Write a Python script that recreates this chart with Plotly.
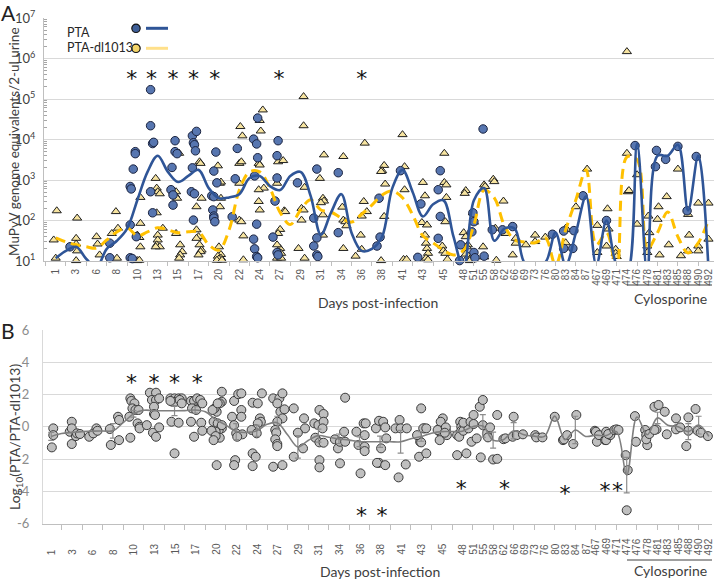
import plotly.graph_objects as go

W, H = 720, 581

# ---------------- data ----------------
day_labels = ["1", "3", "6", "8", "10", "13", "15", "17", "20", "22", "24", "27", "29", "31",
              "34", "36", "38", "41", "43", "45", "48", "51", "55", "58", "62", "66", "69", "73",
              "76", "80", "83", "84", "87", "467", "469", "471", "474", "476", "478", "481",
              "483", "485", "488", "490", "492"]
# category slot of each labelled day on the x axis
label_pos = [0, 2, 4, 6, 8, 10, 12, 14, 16, 18, 20, 22, 24, 26, 28, 30, 32, 34, 36, 38,
             40, 41, 42, 43, 44, 45, 46, 47, 48, 49, 50, 51, 52, 53, 54, 55, 56, 57, 58, 59,
             60, 61, 62, 63, 64]
slot_pos = list(range(65))

# Panel A: PTA (circles), category slot and log10 genome equivalents
pta_pos = [1.4, 5.3, 5.3, 7.3, 7.3, 7.5, 7.3, 7.4, 7.6, 7.8, 7.8, 7.9, 9.3, 9.3, 9.5, 9.6, 9.3, 9.5,
           11.4, 11.3, 11.5, 11.7, 11.7, 11.9, 11.5, 13.4, 13.8, 13.5, 13.6, 13.7, 13.4, 13.3, 13.6,
           13.5, 15.7, 15.5, 15.8, 15.3, 15.5, 15.4, 15.5, 15.5, 15.6, 17.8, 17.6, 17.3, 19.4, 19.8,
           19.7, 19.8, 19.5, 19.4, 19.7, 19.5, 19.7, 19.8, 21.8, 21.7, 21.7, 21.5, 21.3, 21.7, 21.8,
           23.7, 25.6, 25.3, 25.6, 25.3, 25.6, 25.7, 27.7, 27.7, 31.7, 31.5, 31.8, 33.8, 35.8, 35.5,
           37.5, 37.7, 37.7, 37.5, 39.6, 39.7, 40.8, 41.0, 40.9, 41.0, 41.1, 41.9, 42.0, 42.8, 43.8,
           44.8, 48.7, 49.8, 49.8, 50.8, 50.7, 51.7, 54.0, 56.8, 58.8, 58.9, 59.8, 61.0, 61.9, 62.8]
pta_log10 = [1.35, 1.44, 1.08, 1.89, 1.08, 1.06, 2.84, 2.78, 3.27, 3.70, 3.65, 1.60, 5.23, 4.34,
             3.90, 3.93, 2.71, 2.19, 3.31, 2.76, 2.63, 3.97, 3.70, 3.65, 2.38, 4.09, 4.20, 3.92,
             3.87, 3.72, 3.30, 2.71, 2.66, 2.01, 3.69, 3.22, 2.93, 2.61, 2.59, 2.26, 2.11, 2.06,
             1.97, 3.78, 3.03, 2.09, 4.01, 4.53, 3.89, 3.55, 3.10, 1.54, 1.91, 1.30, 1.11, 1.08,
             3.97, 3.60, 3.05, 2.48, 1.59, 1.21, 1.15, 2.93, 3.27, 2.06, 1.57, 1.37, 1.15, 1.11,
             3.18, 1.70, 2.55, 1.37, 1.59, 3.23, 2.41, 1.09, 2.76, 3.23, 2.10, 1.56, 1.01, 1.40,
             1.72, 1.97, 2.19, 1.21, 1.08, 4.26, 1.12, 1.77, 1.77, 1.85, 1.66, 1.74, 1.31, 1.75,
             1.31, 2.61, 2.00, 3.85, 3.33, 3.73, 3.51, 3.83, 2.24, 3.58]

# Panel A: PTA-dl1013 (triangles)
dl_pos = [0.1, 2.1, 5.9, -0.2, 2.0, 2.0, 2.1, 4.0, 4.1, 0.0, 2.0, 4.3, 5.5, 6.1, 6.0, 8.3, 8.3,
          8.0, 8.2, 8.3, 8.0, 8.2, 9.8, 9.9, 10.0, 10.2, 9.9, 10.0, 10.0, 9.9, 10.2, 9.8, 10.5,
          12.1, 11.7, 11.9, 11.8, 11.8, 12.2, 12.4, 12.2, 12.1, 14.1, 14.2, 13.8, 14.0, 13.8, 14.3,
          13.8, 14.1, 14.3, 14.2, 14.0, 16.1, 16.2, 16.2, 16.1, 15.9, 16.0, 16.2, 15.9, 16.2, 16.0,
          15.8, 16.3, 18.3, 18.1, 18.0, 18.2, 18.0, 18.0, 18.2, 18.4, 18.4, 20.1, 20.3, 20.0, 19.9,
          20.0, 20.4, 19.9, 20.0, 19.9, 21.8, 22.3, 21.7, 22.4, 22.5, 22.0, 21.8, 22.0, 21.9, 22.1,
          21.7, 21.7, 22.1, 24.3, 24.3, 24.4, 23.8, 24.1, 24.3, 24.1, 24.4, 25.9, 26.2, 26.3, 26.0,
          26.2, 26.2, 26.3, 28.2, 28.1, 28.2, 28.4, 28.5, 28.2, 29.9, 30.2, 30.3, 30.5, 29.4, 30.0,
          30.0, 34.0, 32.2, 32.0, 31.9, 34.2, 32.3, 34.2, 38.1, 52.1, 61.0, 57.0, 42.9, 43.0, 42.0,
          42.1, 38.1, 36.0, 56.1, 32.2, 36.2, 38.3, 38.3, 35.9, 36.4, 38.2, 43.9, 40.9, 41.0, 43.1,
          44.1, 45.1, 45.1, 40.2, 40.1, 36.2, 36.3, 36.4, 36.5, 36.3, 36.5, 34.1, 34.4, 31.9, 37.9,
          38.0, 38.2, 38.4, 40.0, 40.2, 40.4, 40.3, 40.2, 40.5, 40.7, 40.9, 40.6, 41.9, 42.0, 43.2,
          44.8, 47.0, 47.0, 46.1, 48.0, 50.0, 50.1, 50.0, 51.0, 53.1, 53.1, 54.1, 54.2, 54.0, 54.9,
          54.9, 55.0, 56.2, 57.0, 58.1, 58.2, 58.0, 58.0, 59.1, 59.0, 59.2, 59.9, 60.1, 62.0, 62.1,
          62.0, 61.3, 63.0, 64.0, 64.0, 63.0, 63.0, 56.0, 56.0]
dl_log10 = [2.24, 2.06, 2.22, 1.52, 1.56, 1.42, 1.25, 1.60, 1.42, 1.07, 1.01, 1.15, 1.68, 1.81,
            1.07, 2.57, 1.93, 1.64, 1.58, 1.35, 1.01, 1.02, 3.04, 2.80, 2.71, 2.66, 2.19, 1.64,
            1.52, 1.40, 1.35, 1.35, 1.81, 3.66, 2.63, 2.55, 2.71, 1.68, 1.40, 1.23, 1.15, 1.07,
            3.45, 3.41, 1.77, 1.60, 1.56, 2.55, 2.34, 1.40, 1.27, 1.23, 1.15, 2.92, 2.95, 2.55,
            2.34, 3.35, 1.35, 1.16, 1.12, 1.07, 1.05, 1.02, 1.02, 4.09, 4.32, 3.41, 3.45, 2.92,
            2.01, 1.97, 1.62, 1.03, 4.21, 4.73, 4.47, 3.41, 3.37, 2.80, 2.47, 2.26, 2.76, 3.45,
            3.48, 2.92, 2.24, 2.22, 1.78, 1.68, 1.31, 1.23, 1.19, 1.40, 1.07, 1.07, 5.06, 4.34,
            1.07, 1.31, 2.30, 2.26, 2.01, 2.82, 3.04, 2.55, 2.48, 2.44, 2.14, 1.64, 3.62, 3.58,
            2.33, 2.01, 1.97, 1.87, 1.31, 1.64, 2.47, 3.91, 2.22, 1.12, 2.11, 1.29, 4.12, 3.36,
            3.23, 3.21, 3.33, 2.90, 2.76, 3.66, 3.27, 3.27, 3.13, 3.02, 2.96, 2.88, 2.84, 2.94,
            2.94, 2.71, 2.10, 2.61, 2.88, 2.57, 1.95, 1.89, 1.97, 2.48, 2.19, 1.96, 1.81, 1.68,
            1.56, 1.44, 2.74, 2.67, 1.64, 1.44, 1.31, 1.19, 1.07, 1.03, 1.04, 1.04, 1.01, 1.37,
            1.25, 1.19, 1.04, 1.70, 1.60, 1.40, 1.35, 1.17, 1.12, 1.08, 1.10, 1.01, 1.35, 1.10,
            1.02, 1.15, 1.64, 1.48, 1.40, 1.59, 1.81, 1.78, 1.45, 2.34, 1.88, 1.21, 2.29, 1.79,
            1.37, 1.29, 1.19, 1.11, 2.74, 1.91, 2.11, 1.70, 1.37, 1.21, 2.34, 2.03, 1.15, 2.59,
            1.40, 2.15, 1.64, 1.25, 1.13, 2.43, 2.43, 1.54, 1.37, 1.25, 6.17, 3.66]

# Panel A: smoothed means per category slot (log10)
pta_mean_log10 = [1.07, 1.25, 1.35, 1.05, 0.85, 1.3, 1.5, 1.8, 2.5, 3.2,
                  3.6, 3.2, 2.95, 3.1, 3.25, 2.8, 2.55, 2.57, 2.65, 3.05,
                  3.1, 2.85, 2.75, 3.1, 3.2, 2.6, 1.65, 2.2, 2.65, 1.7,
                  1.25, 1.3, 1.6, 2.8, 3.25, 2.7, 2.1, 2.4, 2.5, 1.6,
                  0.8, 2.5, 2.8, 1.5, 1.8, 1.8, 0.95, 0.97, 0.97, 1.7,
                  0.9, 1.7, 2.6, 0.9, 2.0, 0.9, 0.7, 3.9, 0.7, 3.6,
                  3.6, 3.87, 2.25, 3.6, 0.8]
dl_mean_log10 = [1.57, 1.47, 1.40, 1.35, 1.32, 1.52, 1.72, 1.82, 1.62, 1.72,
                 1.82, 1.77, 1.70, 1.72, 1.72, 1.40, 1.27, 1.77, 2.75, 3.2,
                 3.2, 2.8, 2.2, 1.9, 2.26, 2.51, 2.26, 2.21, 2.06, 1.96,
                 2.16, 2.38, 2.63, 2.73, 2.56, 2.14, 1.62, 1.45, 1.27, 1.15,
                 1.27, 1.89, 2.75, 2.56, 1.87, 1.52, 1.47, 1.45, 1.57, 0.9,
                 1.77, 2.51, 3.25, 1.4, 1.7, 0.8, 3.57, 3.5, 1.3, 1.7,
                 2.21, 1.6, 1.2, 1.45, 2.01]

# Panel B: log10(PTA/PTA-dl1013) per sample
ratio_pos = [0.06, 0.2, 0.2, 1.8, 2.0, 2.0, 2.0, 2.4, 2.5, 2.8, 3.7, 4.1, 4.4, 4.5, 5.7, 5.8, 6.5,
             6.6, 6.6, 7.7, 7.8, 8.1, 7.9, 8.2, 8.5, 7.6, 8.4, 8.6, 8.6, 7.7, 9.6, 10.2, 9.8, 10.2,
             10.5, 10.0, 10.0, 10.1, 9.9, 10.2, 10.5, 9.3, 11.6, 12.0, 12.4, 12.7, 11.8, 12.1, 12.5,
             12.7, 11.7, 12.4, 12.0, 11.6, 13.6, 13.9, 14.0, 14.2, 14.5, 14.7, 13.7, 14.1, 13.6,
             14.6, 14.7, 13.9, 16.1, 16.6, 16.6, 16.4, 15.9, 15.7, 15.8, 16.2, 16.6, 16.3, 16.0,
             15.6, 16.4, 16.0, 16.1, 15.8, 16.2, 16.6, 17.8, 18.2, 18.5, 18.5, 17.6, 18.5, 17.8,
             18.0, 18.6, 18.1, 17.9, 17.8, 19.6, 20.1, 20.5, 20.3, 20.4, 20.1, 19.9, 19.5, 20.0,
             19.6, 19.9, 19.6, 21.6, 22.2, 22.5, 22.0, 22.3, 22.7, 22.5, 22.0, 21.8, 21.9, 21.8,
             22.0, 22.0, 21.6, 22.5, 23.6, 24.6, 24.7, 24.0, 24.5, 23.6, 26.1, 26.5, 25.6, 26.0,
             26.5, 26.4, 25.7, 26.1, 26.5, 26.1, 26.1, 28.6, 27.6, 27.9, 28.5, 28.1, 28.6, 28.1,
             29.7, 29.9, 30.4, 30.6, 30.5, 30.5, 30.5, 30.1, 31.6, 31.9, 32.3, 32.5, 32.6, 32.1,
             31.9, 31.7, 32.5, 33.5, 33.9, 34.0, 34.6, 33.8, 34.5, 35.8, 35.9, 36.0, 36.5, 36.0,
             36.3, 36.2, 36.5, 35.6, 37.7, 37.8, 38.0, 38.1, 37.9, 37.6, 37.8, 38.4, 38.5, 38.4,
             38.3, 39.5, 39.5, 39.8, 39.9, 39.9, 39.7, 40.4, 40.4, 40.1, 40.6, 40.1, 40.8, 41.1,
             41.1, 40.9, 41.4, 41.7, 42.0, 41.8, 42.0, 42.4, 42.5, 42.7, 43.4, 43.0, 43.4, 44.0,
             44.2, 45.0, 44.9, 45.3, 45.9, 47.1, 47.2, 47.8, 49.0, 49.8, 49.9, 50.2, 50.8, 51.1,
             52.9, 53.0, 53.1, 53.3, 53.9, 54.0, 54.0, 54.4, 54.2, 54.8, 55.0, 55.2, 55.9, 56.1,
             56.0, 56.8, 56.9, 57.8, 57.9, 58.0, 57.9, 58.2, 58.7, 59.1, 58.9, 58.7, 59.7, 59.9,
             60.8, 60.8, 61.2, 61.8, 62.0, 62.0, 62.7, 62.9, 63.2, 63.9]
ratio_val = [-1.28, -0.10, -0.52, -0.31, 0.31, -0.10, -1.07, -0.58, -0.41, -0.45, -0.62, -0.41,
             -0.10, -0.25, -0.14, -1.13, 0.62, 0.42, -0.83, 1.76, 1.60, 1.45, 1.14, 1.04, 1.04,
             0.62, 0.21, 0.00, -0.10, -0.68, 2.11, 2.11, 1.66, 1.66, 1.76, 1.24, 0.79, 0.73,
             -0.37, -0.62, -0.04, 0.10, 1.76, 1.76, 1.76, 1.76, 1.55, 1.55, 1.66, 1.45, 0.31,
             0.25, -1.65, 1.60, 1.60, 1.60, 1.14, 1.76, 1.66, 1.45, 1.14, 1.04, 0.31, 0.25, -0.25,
             -0.62, 0.93, 2.17, 1.55, 1.45, 1.14, 1.04, 0.31, 0.21, -0.10, -0.20, -0.31, -0.25,
             -0.68, -0.58, -2.38, -0.83, 1.45, 0.10, 1.60, 2.02, 2.07, 1.04, 0.62, 0.62, 0.10,
             -0.41, -0.47, -0.62, -2.07, -2.38, 1.49, 1.45, 2.07, 0.52, 0.31, 0.21, -0.16, -0.20,
             -0.41, -1.65, -1.86, -2.44, 1.76, 1.76, 2.07, 1.45, 0.93, 1.08, 0.52, 0.31, -0.20,
             -0.37, -0.78, -1.07, -1.20, -2.48, -2.38, 1.14, 0.52, -0.10, -0.37, -1.34, -1.86,
             1.04, 0.79, 0.21, 0.10, 0.31, -0.10, -0.68, -0.97, -0.99, -2.07, -2.52, 1.80, -0.78,
             -1.34, -0.31, -0.93, -0.93, -2.27, -0.31, -1.13, 0.21, 0.21, -1.24, -1.51, -0.52,
             -2.89, -0.10, 0.37, 0.31, -0.04, -0.72, -1.34, -2.24, -2.24, -2.38, -0.10, 0.42,
             -0.10, -0.10, -3.14, -2.34, -1.86, -0.93, -0.97, -1.65, 1.14, -0.10, -0.10, -0.10,
             -0.52, -0.16, -0.31, -0.41, 0.52, 0.31, -0.20, -0.83, -0.25, -0.52, -0.04, -0.37,
             -0.52, -1.76, 0.31, 0.00, -0.25, -0.62, 0.10, -1.65, -0.25, -0.10, 0.25, 0.31, 0.73,
             0.17, -0.93, -0.72, 1.24, 1.66, -1.90, 0.10, -0.41, -0.66, -0.04, 0.73, -2.03, -1.99,
             -0.77, -0.72, 0.62, -0.62, -0.52, -0.47, -0.52, -0.66, -0.66, 0.62, -0.83, -0.78,
             -0.52, -1.07, 0.73, -0.25, -0.31, -0.93, -0.52, -0.83, -0.31, -0.83, -0.52, -0.45,
             -0.20, -0.16, -0.20, -1.76, -2.69, -5.18, 0.66, -0.93, -0.20, -0.52, -1.14, -0.78,
             -0.45, 1.24, 1.35, -0.16, -0.20, 0.93, -0.47, 0.52, -0.16, -0.04, -1.20, 0.58, -0.25,
             1.10, -0.25, -0.37, -0.58]

ratio_mean = [-0.6, -0.42, -0.35, -0.3, -0.27, -0.26, -0.25, 0.25, 0.8, 1.02,
              1.0, 0.99, 0.99, 1.0, 1.04, 0.93, 0.45, 0.1, -0.3, -0.35,
              -0.25, 0.15, 0.25, -0.5, -1.25, -0.85, -0.55, -0.65, -0.75, -0.83,
              -0.93, -0.93, -0.93, -0.93, -0.93, -0.75, -0.6, -0.4, -0.3, -0.3,
              -0.28, 0.0, 0.05, -0.83, -0.8, -0.25, -0.5, -0.58, -0.6, 0.66,
              -0.8, -0.2, -0.6, -0.52, -0.55, -0.3, -3.0, 0.6, -0.5, 0.55,
              0.1, 0.0, -0.3, 0.1, -0.6]
ratio_err = [0.25, 0, 0, 0, 0, 0, 0.45, 0, 0.2, 0,
             0, 0, 0.3, 0, 0.2, 0, 0, 0, 0.5, 0,
             0.35, 0, 0.4, 0, 0.7, 0, 0.4, 0, 0.3, 0,
             0.3, 0, 0.35, 0, 0.7, 0, 0.3, 0, 0, 0,
             0, 0, 0.7, 0.5, 0, 0.5, 0, 0, 0, 0,
             0, 0.85, 0, 0, 0, 0, 1.1, 0, 0, 0.35,
             0, 0, 0.5, 0.55, 0]

# significance marks
sig_top_pos = [7.45, 9.4, 11.5, 13.5, 15.6, 21.9, 30.0]
sig_top_log10 = [5.45] * 7
sig_b_up_pos = [7.8, 10.0, 12.0, 14.2]
sig_b_up_val = [2.62] * 4
sig_b_dn_pos = [30.2, 32.2, 39.9, 44.1, 50.0, 53.9, 55.1]
sig_b_dn_val = [-5.63, -5.63, -3.97, -3.97, -4.29, -4.07, -4.07]

# ---------------- styling helpers ----------------
def px(x):
    return x / W


def py(y):
    return 1 - y / H


BLUE_FILL = "#5776B0"
BLUE_LINE = "#2F5597"
YEL_FILL = "#F7E4A0"
YEL_LINE = "#FFC000"
DARK = "#1F1F1F"
TXT = "#404040"
FONT = "Lato"

fig = go.Figure()

# ---- panel A ----
fig.add_trace(go.Scatter(
    x=dl_pos, y=[10 ** v for v in dl_log10], mode="markers", cliponaxis=False,
    marker=dict(symbol="triangle-up", size=8, color=YEL_FILL, line=dict(color=DARK, width=1)),
    xaxis="x", yaxis="y", showlegend=False))
fig.add_trace(go.Scatter(
    x=pta_pos, y=[10 ** v for v in pta_log10], mode="markers", cliponaxis=False,
    marker=dict(symbol="circle", size=8.5, color=BLUE_FILL, line=dict(color="#1B2440", width=1)),
    xaxis="x", yaxis="y", showlegend=False))
fig.add_trace(go.Scatter(
    x=slot_pos, y=[10 ** v for v in dl_mean_log10], mode="lines",
    line=dict(color=YEL_LINE, width=3, dash="10px,6px", shape="spline", smoothing=1.0),
    xaxis="x", yaxis="y", showlegend=False))
fig.add_trace(go.Scatter(
    x=slot_pos, y=[10 ** v for v in pta_mean_log10], mode="lines",
    line=dict(color=BLUE_LINE, width=2.6, shape="spline", smoothing=1.0),
    xaxis="x", yaxis="y", showlegend=False))
fig.add_trace(go.Scatter(
    x=sig_top_pos, y=[10 ** v for v in sig_top_log10], mode="text", text=["*"] * len(sig_top_pos),
    textfont=dict(size=22, color="#111111", family="DejaVu Sans"), cliponaxis=False,
    xaxis="x", yaxis="y", showlegend=False))

# ---- panel B ----
fig.add_trace(go.Scatter(
    x=ratio_pos, y=ratio_val, mode="markers", cliponaxis=False,
    marker=dict(symbol="circle", size=9, color="#BFBFBF", line=dict(color="#3A3A3A", width=1)),
    xaxis="x2", yaxis="y2", showlegend=False))
err_idx = [i for i, e in enumerate(ratio_err) if e > 0]
fig.add_trace(go.Scatter(
    x=[slot_pos[i] for i in err_idx], y=[ratio_mean[i] for i in err_idx], mode="markers",
    marker=dict(size=1, color="rgba(0,0,0,0)"),
    error_y=dict(type="data", array=[ratio_err[i] for i in err_idx], color="#8C8C8C",
                 thickness=1.2, width=3),
    xaxis="x2", yaxis="y2", showlegend=False))
fig.add_trace(go.Scatter(
    x=slot_pos, y=ratio_mean, mode="lines",
    line=dict(color="#7F7F7F", width=1.6, shape="spline", smoothing=1.0),
    xaxis="x2", yaxis="y2", showlegend=False))
fig.add_trace(go.Scatter(
    x=sig_b_up_pos + sig_b_dn_pos, y=sig_b_up_val + sig_b_dn_val, mode="text",
    text=["*"] * (len(sig_b_up_pos) + len(sig_b_dn_pos)),
    textfont=dict(size=22, color="#111111", family="DejaVu Sans"), cliponaxis=False,
    xaxis="x2", yaxis="y2", showlegend=False))

# ---------------- layout ----------------
log_minor = [k * 10 ** e for e in range(1, 7) for k in range(2, 10)]
odd_ticks = list(range(-1, 66, 2))

annotations = []
for p, lab in zip(label_pos, day_labels):
    annotations.append(dict(x=p, xref="x2", y=py(557), yref="paper", text=lab, showarrow=False,
                            textangle=-90, xanchor="center", yanchor="bottom",
                            font=dict(size=10, color="#595959", family="Liberation Sans")))

def note(text, x, y, size=14, angle=0, color=TXT, xanchor="center"):
    annotations.append(dict(x=px(x), y=py(y), xref="paper", yref="paper", text=text,
                            showarrow=False, textangle=angle, xanchor=xanchor, yanchor="middle",
                            font=dict(size=size, color=color, family=FONT)))

note("A", 8, 12, size=21, color="#222222")
note("B", 8, 330, size=21, color="#222222")
note("MuPyV genome equivalents/2-ul urine", 14, 142, size=13.5, angle=-90)
note("Log<sub>10</sub>(PTA/PTA-dl1013)", 15, 437, size=14, angle=-90)
note("Days post-infection", 378, 302, size=14)
note("Cylosporine", 670, 298, size=14)
note("Days post-infection", 380, 571, size=14)
note("Cylosporine", 670, 570, size=14)
note("PTA", 65, 32, size=12.5, color="#262626", xanchor="left")
note("PTA-dl1013", 65, 48, size=12.5, color="#262626", xanchor="left")

shapes = [
    dict(type="line", xref="paper", yref="paper", x0=px(627), x1=px(712), y0=py(285), y1=py(285),
         line=dict(color="#404040", width=1)),
    dict(type="line", xref="paper", yref="paper", x0=px(627), x1=px(712), y0=py(560), y1=py(560),
         line=dict(color="#404040", width=1)),
    # manual legend
    dict(type="circle", xref="paper", yref="paper", x0=px(131.8), x1=px(140.2), y0=py(32.5),
         y1=py(24.1), fillcolor="#3F5F98", line=dict(color="#111111", width=1.2)),
    dict(type="line", xref="paper", yref="paper", x0=px(146), x1=px(168), y0=py(28.3), y1=py(28.3),
         line=dict(color=BLUE_LINE, width=3)),
    dict(type="circle", xref="paper", yref="paper", x0=px(131.8), x1=px(140.2), y0=py(52.5),
         y1=py(44.1), fillcolor="#F3D469", line=dict(color="#111111", width=1.2)),
    dict(type="line", xref="paper", yref="paper", x0=px(146), x1=px(168), y0=py(48.3), y1=py(48.3),
         line=dict(color="#FFE08A", width=3)),
]

fig.update_layout(
    width=W, height=H, autosize=False,
    margin=dict(l=0, r=0, t=0, b=0, autoexpand=False),
    paper_bgcolor="white", plot_bgcolor="white",
    font=dict(family=FONT, color=TXT),
    showlegend=False,
    xaxis=dict(domain=[px(44), px(714)], range=[-1.15, 64.54], anchor="y", automargin=False,
               tickmode="array", tickvals=label_pos, ticktext=day_labels, tickangle=-90,
               ticks="", ticklabelstandoff=3,
               tickfont=dict(size=10, color="#595959", family="Liberation Sans"),
               showline=True, linecolor="#BFBFBF", linewidth=1, showgrid=False, zeroline=False,
               minor=dict(tickmode="array", tickvals=odd_ticks, ticks="outside", ticklen=4,
                          tickcolor="#BFBFBF", showgrid=False)),
    yaxis=dict(domain=[py(261), py(18)], type="log", range=[1, 7], anchor="x", automargin=False,
               tickmode="array", tickvals=[10 ** e for e in range(1, 8)],
               ticktext=["10<sup>%d</sup>" % e for e in range(1, 8)],
               ticks="", ticklabelstandoff=5,
               tickfont=dict(size=13, color="#404040", family=FONT),
               showline=True, linecolor="#BFBFBF", linewidth=1,
               showgrid=True, gridcolor="#D9D9D9", gridwidth=1, zeroline=False,
               minor=dict(tickmode="array", tickvals=log_minor, ticks="inside", ticklen=3,
                          tickcolor="#A6A6A6", showgrid=False)),
    xaxis2=dict(domain=[px(43), px(712)], range=[-0.8, 64.3], anchor="y2", automargin=False,
                tickmode="array", tickvals=label_pos, showticklabels=False, ticks="",
                showline=True, linecolor="#BFBFBF", linewidth=1, showgrid=False, zeroline=False,
                minor=dict(tickmode="array", tickvals=odd_ticks, ticks="outside", ticklen=5,
                           tickcolor="#BFBFBF", showgrid=False)),
    yaxis2=dict(domain=[py(523.5), py(330)], range=[-6, 6], anchor="x2", automargin=False,
                tickmode="array", tickvals=[-6, -4, -2, 0, 2, 4, 6],
                ticktext=["-6", "-4", "-2", "0", "2", "4", "6"],
                ticks="", ticklabelstandoff=10,
                tickfont=dict(size=13, color="#8C8C8C", family=FONT),
                showline=True, linecolor="#D9D9D9", linewidth=1,
                showgrid=True, gridcolor="#D9D9D9", gridwidth=1, zeroline=False),
    annotations=annotations,
    shapes=shapes,
)

fig.write_html("out.html", config={"displayModeBar": False},
               post_script="document.body.style.margin='0px';document.body.style.padding='0px';")
